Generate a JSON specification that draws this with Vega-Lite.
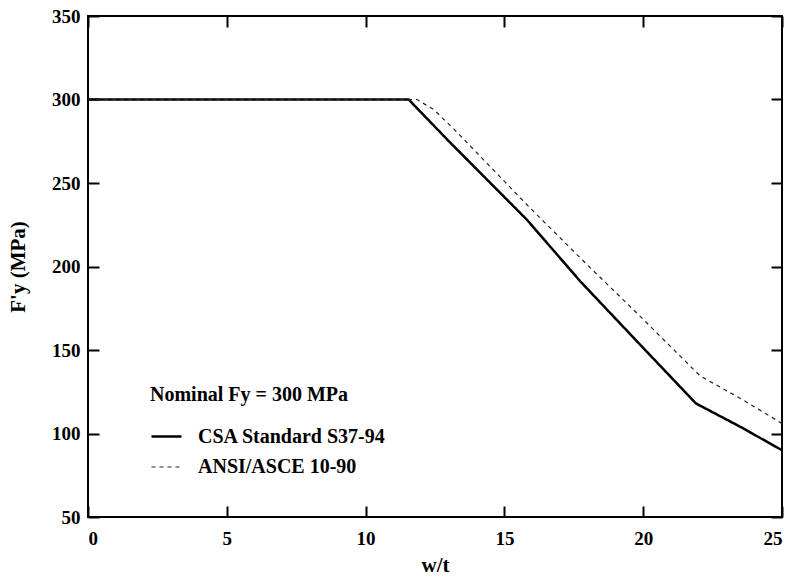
{
  "$schema": "https://vega.github.io/schema/vega-lite/v6.json",
  "width": 694,
  "height": 501,
  "autosize": "none",
  "padding": {"left": 88, "top": 16, "right": 9, "bottom": 60},
  "background": "white",
  "config": {
    "font": "Liberation Serif",
    "view": {"stroke": "black", "strokeWidth": 2},
    "axis": {
      "grid": false,
      "domain": false,
      "ticks": true,
      "tickColor": "black",
      "tickWidth": 2,
      "tickSize": 11,
      "offset": -11,
      "labelFont": "Liberation Serif",
      "labelFontWeight": "bold",
      "labelFontSize": 19,
      "labelColor": "black",
      "titleFont": "Liberation Serif",
      "titleFontWeight": "bold",
      "titleFontSize": 21,
      "titleColor": "black"
    }
  },
  "data": {
    "values": [
      {"wt": 0, "fy": 300, "series": "CSA Standard S37-94"},
      {"wt": 11.55, "fy": 300, "series": "CSA Standard S37-94"},
      {"wt": 13.0, "fy": 275, "series": "CSA Standard S37-94"},
      {"wt": 15.81, "fy": 228, "series": "CSA Standard S37-94"},
      {"wt": 17.74, "fy": 191, "series": "CSA Standard S37-94"},
      {"wt": 19.9, "fy": 153, "series": "CSA Standard S37-94"},
      {"wt": 21.9, "fy": 118, "series": "CSA Standard S37-94"},
      {"wt": 23.5, "fy": 104, "series": "CSA Standard S37-94"},
      {"wt": 25, "fy": 90, "series": "CSA Standard S37-94"},
      {"wt": 0, "fy": 300, "series": "ANSI/ASCE 10-90"},
      {"wt": 11.85, "fy": 300, "series": "ANSI/ASCE 10-90"},
      {"wt": 12.45, "fy": 294, "series": "ANSI/ASCE 10-90"},
      {"wt": 13.2, "fy": 282, "series": "ANSI/ASCE 10-90"},
      {"wt": 15.87, "fy": 236, "series": "ANSI/ASCE 10-90"},
      {"wt": 17.74, "fy": 205, "series": "ANSI/ASCE 10-90"},
      {"wt": 19.9, "fy": 170, "series": "ANSI/ASCE 10-90"},
      {"wt": 22.05, "fy": 134.5, "series": "ANSI/ASCE 10-90"},
      {"wt": 23.5, "fy": 121, "series": "ANSI/ASCE 10-90"},
      {"wt": 25, "fy": 106, "series": "ANSI/ASCE 10-90"}
    ]
  },
  "layer": [
    {
      "mark": {"type": "line", "clip": true},
      "encoding": {
        "x": {"field": "wt", "type": "quantitative", "scale": {"domain": [0, 25], "nice": false}, "axis": {"orient": "bottom", "values": [0, 5, 10, 15, 20, 25], "title": "w/t", "labelPadding": 12, "titlePadding": 6}},
        "y": {"field": "fy", "type": "quantitative", "scale": {"domain": [50, 350], "nice": false, "zero": false}, "axis": {"orient": "left", "values": [50, 100, 150, 200, 250, 300, 350], "title": "F'y  (MPa)", "labelPadding": 8, "titlePadding": 23}},
        "color": {"field": "series", "type": "nominal", "scale": {"domain": ["CSA Standard S37-94", "ANSI/ASCE 10-90"], "range": ["#000000", "#222222"]},
          "legend": {"orient": "none", "legendX": 62, "legendY": 369, "title": "Nominal Fy = 300 MPa", "titleFont": "Liberation Serif", "titleFontSize": 20, "titleFontWeight": "bold", "titleColor": "black", "titlePadding": 15, "titleLimit": 0, "labelLimit": 0, "labelFont": "Liberation Serif", "labelFontSize": 20, "labelFontWeight": "bold", "labelColor": "black", "labelOffset": 15, "symbolType": "stroke", "symbolSize": 900, "rowPadding": 4}},
        "strokeDash": {"field": "series", "type": "nominal", "scale": {"domain": ["CSA Standard S37-94", "ANSI/ASCE 10-90"], "range": [[1, 0], [4, 4]]}},
        "strokeWidth": {"field": "series", "type": "nominal", "scale": {"domain": ["CSA Standard S37-94", "ANSI/ASCE 10-90"], "range": [2.5, 1.2]}}
      }
    },
    {
      "mark": {"type": "line", "opacity": 0},
      "encoding": {
        "x": {"field": "wt", "type": "quantitative", "axis": {"orient": "top", "values": [0, 5, 10, 15, 20, 25], "labels": false, "title": null}},
        "y": {"field": "fy", "type": "quantitative", "axis": {"orient": "right", "values": [50, 100, 150, 200, 250, 300, 350], "labels": false, "title": null}},
        "detail": {"field": "series", "type": "nominal"}
      }
    }
  ],
  "resolve": {"axis": {"x": "independent", "y": "independent"}}
}
